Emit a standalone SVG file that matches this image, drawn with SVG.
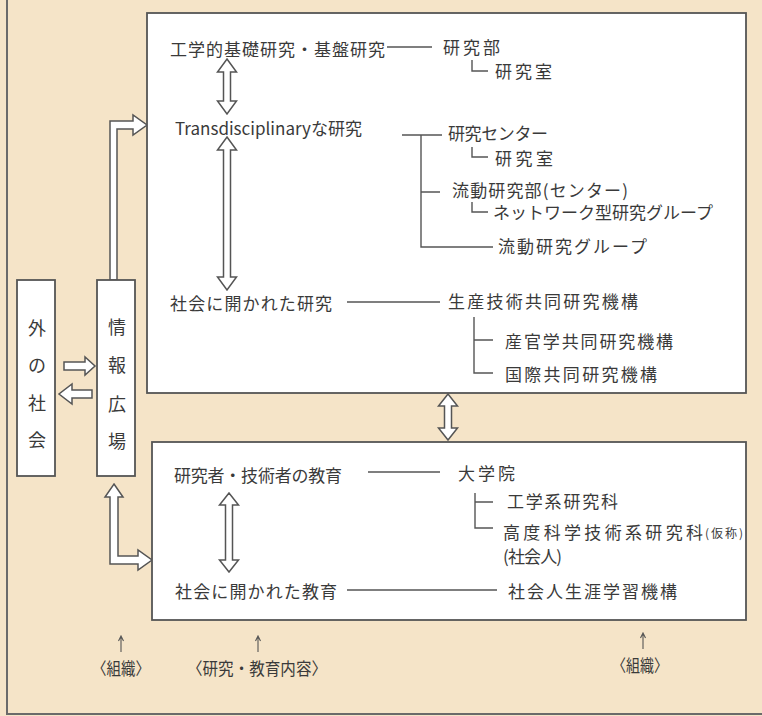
<svg xmlns="http://www.w3.org/2000/svg" width="762" height="716" viewBox="0 0 762 716">
<style>
text{font-family:"Noto Sans CJK JP","Noto Sans",sans-serif;fill:#3a3a3a;font-size:17px;dominant-baseline:central}
.box{fill:#fff;stroke:#555;stroke-width:1.8}
.ln{fill:none;stroke:#555;stroke-width:1.4}
.ha{fill:#fff;stroke:#555;stroke-width:1.5;stroke-linejoin:miter}
.frame{fill:none;stroke:#6a6a6a;stroke-width:2}
.vt{text-anchor:middle;font-size:18px}
.lbl{font-size:17px;text-anchor:middle}
.sm{font-size:12px}
</style>
<rect x="0" y="0" width="762" height="716" fill="#f5e4c8"/>
<path class="frame" d="M7,0 V714 H762"/>

<g id="connectors">
  <path class="ha" d="M110,280 L110,121 L133,121 L133,115 L147,125 L133,135 L133,129 L117,129 L117,280 Z"/>
  <path class="ha" d="M114,484 L123,497 L118,497 L118,556 L138,556 L138,550 L152,560 L138,570 L138,564 L110,564 L110,497 L105,497 Z"/>
  <path class="ha" d="M64,362 L85,362 L85,357 L95,366 L85,375 L85,370 L64,370 Z"/>
  <path class="ha" d="M92,390 L72,390 L72,384 L59,394 L72,404 L72,398 L92,398 Z"/>
  <path class="ha" d="M448,394 L457.5,406 L451.5,406 L451.5,428 L457.5,428 L448,440 L438.5,428 L444.5,428 L444.5,406 L438.5,406 Z"/>
</g>

<g id="upper-box">
  <rect class="box" x="147" y="13" width="599" height="380"/>
</g>
<g id="lower-box">
  <rect class="box" x="152" y="442" width="594" height="178"/>
</g>
<g id="outside-society">
  <rect class="box" x="17" y="280" width="38" height="196"/>
  <text class="vt" x="37" y="327">外</text>
  <text class="vt" x="37" y="364">の</text>
  <text class="vt" x="37" y="402">社</text>
  <text class="vt" x="37" y="439">会</text>
</g>
<g id="info-plaza">
  <rect class="box" x="97" y="280" width="38" height="196"/>
  <text class="vt" x="117" y="326">情</text>
  <text class="vt" x="117" y="364">報</text>
  <text class="vt" x="117" y="403">広</text>
  <text class="vt" x="117" y="440">場</text>
</g>

<g id="research-tree">
  <path class="ha" d="M227,59 L236.5,72 L230.5,72 L230.5,101 L236.5,101 L227,114 L217.5,101 L223.5,101 L223.5,72 L217.5,72 Z"/>
  <path class="ha" d="M227,137 L236.5,150 L230.5,150 L230.5,277 L236.5,277 L227,290 L217.5,277 L223.5,277 L223.5,150 L217.5,150 Z"/>
  <path class="ln" d="M387,47 H432 M472,60 V71 H488 M402,135 H442 M421,135 V247 H493 M421,192 H440 M472,147 V157 H488 M472,202 V212 H488 M347,302 H440 M474,317 V373 H493 M474,340 H493"/>
  <text x="170" y="48" textLength="215">工学的基礎研究・基盤研究</text>
  <text x="443" y="46" textLength="57">研究部</text>
  <text x="495" y="70" textLength="57">研究室</text>
  <text x="175" y="127" textLength="187" lengthAdjust="spacingAndGlyphs">Transdisciplinaryな研究</text>
  <text x="448" y="132" textLength="100">研究センター</text>
  <text x="495" y="157" textLength="58">研究室</text>
  <text x="452" y="189" textLength="176">流動研究部(センター)</text>
  <text x="493" y="211" textLength="220">ネットワーク型研究グループ</text>
  <text x="498" y="245" textLength="149">流動研究グループ</text>
  <text x="170" y="302" textLength="162">社会に開かれた研究</text>
  <text x="448" y="300" textLength="190">生産技術共同研究機構</text>
  <text x="505" y="340" textLength="168">産官学共同研究機構</text>
  <text x="505" y="373" textLength="152">国際共同研究機構</text>
</g>

<g id="education-tree">
  <path class="ha" d="M229,493 L238.5,505 L232.5,505 L232.5,560 L238.5,560 L229,572 L219.5,560 L225.5,560 L225.5,505 L219.5,505 Z"/>
  <path class="ln" d="M368,472 H440 M475,493 V528 H493 M475,502 H493 M347,590 H497"/>
  <text x="174" y="474" textLength="168">研究者・技術者の教育</text>
  <text x="458" y="472" textLength="57">大学院</text>
  <text x="507" y="500" textLength="111">工学系研究科</text>
  <text x="503" y="531" textLength="200">高度科学技術系研究科</text>
  <text class="sm" x="705" y="532" textLength="38">(仮称)</text>
  <text x="503" y="555" textLength="59">(社会人)</text>
  <text x="175" y="590" textLength="162">社会に開かれた教育</text>
  <text x="508" y="590" textLength="169">社会人生涯学習機構</text>
</g>

<g id="bottom-labels">
  <path class="ln" d="M121,652 V637 M118.5,641 L121,636 L123.5,641 M258,652 V637 M255.5,641 L258,636 L260.5,641 M643,649 V634 M640.5,638 L643,633 L645.5,638" style="stroke-width:1.1"/>
  <text class="lbl" x="121" y="667" textLength="58" lengthAdjust="spacingAndGlyphs">〈組織〉</text>
  <text class="lbl" x="257" y="667" textLength="140" lengthAdjust="spacingAndGlyphs">〈研究・教育内容〉</text>
  <text class="lbl" x="640" y="664" textLength="56" lengthAdjust="spacingAndGlyphs">〈組織〉</text>
</g>
</svg>
